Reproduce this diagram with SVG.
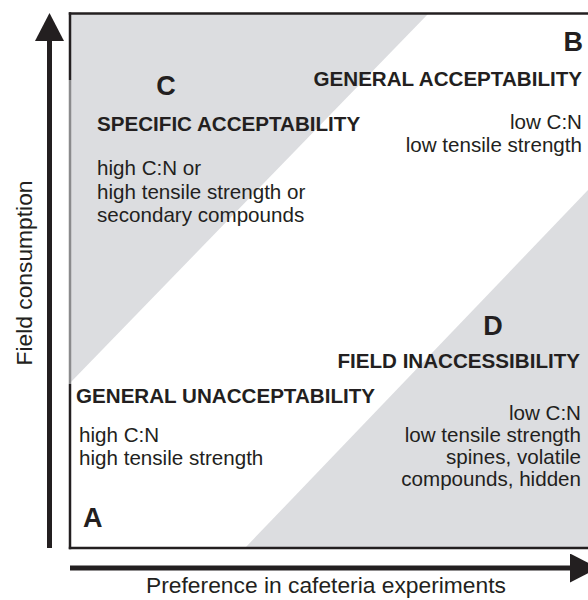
<svg xmlns="http://www.w3.org/2000/svg" width="588" height="600" viewBox="0 0 588 600">
<defs>
<style>
.fill{fill:#dcdde0;stroke:none}
.frame{stroke:#231f20;stroke-width:2.5;fill:none}
.frame-soft{stroke:#8a8a8c;stroke-width:2.5;fill:none}
.axis{stroke:#231f20;stroke-width:5;fill:none}
text{font-family:"Liberation Sans",Arial,Helvetica,sans-serif;fill:#231f20}
.big{font-size:27px;font-weight:bold}
.head{font-size:20.6px;font-weight:bold}
.body{font-size:20.6px}
.axislabel{font-size:22.8px}
</style>
<marker id="arrow" markerUnits="userSpaceOnUse" markerWidth="28" markerHeight="29" refX="0" refY="14.5" orient="auto" viewBox="0 0 28 29">
<path d="M0,0 L28,14.5 L0,29 Z" fill="#231f20"/>
</marker>
</defs>
<rect x="0" y="0" width="588" height="600" fill="#ffffff"/>

<g id="region-C-fill">
<polygon class="fill" points="70,14 428,14 70,383"/>
</g>
<g id="region-D-fill">
<polygon class="fill" points="588,190 600,178 600,548 245,548"/>
</g>

<g id="frame">
<line class="frame" x1="68.8" y1="13.5" x2="600" y2="13.5"/>
<line class="frame" x1="68.8" y1="548" x2="600" y2="548"/>
<line class="frame" x1="70" y1="12.3" x2="70" y2="80"/>
<line class="frame-soft" x1="70" y1="80" x2="70" y2="384"/>
<line class="frame" x1="70" y1="384" x2="70" y2="549.2"/>
</g>

<g id="connectors">
<line id="y-axis" class="axis" x1="49.5" y1="548" x2="49.5" y2="41" marker-end="url(#arrow)"/>
<line id="x-axis" class="axis" x1="70" y1="568" x2="570" y2="568" marker-end="url(#arrow)"/>
</g>

<g id="node-C">
<text class="big" x="166" y="95" text-anchor="middle">C</text>
<text class="head" x="97" y="131">SPECIFIC ACCEPTABILITY</text>
<text class="body" x="97" y="175">high C:N or</text>
<text class="body" x="97" y="199">high tensile strength or</text>
<text class="body" x="97" y="222">secondary compounds</text>
</g>

<g id="node-B">
<text class="big" x="583" y="51" text-anchor="end">B</text>
<text class="head" x="582" y="86" text-anchor="end">GENERAL ACCEPTABILITY</text>
<text class="body" x="582" y="129" text-anchor="end">low C:N</text>
<text class="body" x="582" y="152" text-anchor="end">low tensile strength</text>
</g>

<g id="node-D">
<text class="big" x="493" y="335" text-anchor="middle">D</text>
<text class="head" x="580" y="368" text-anchor="end">FIELD INACCESSIBILITY</text>
<text class="body" x="581" y="420" text-anchor="end">low C:N</text>
<text class="body" x="581" y="442" text-anchor="end">low tensile strength</text>
<text class="body" x="581" y="464" text-anchor="end">spines, volatile</text>
<text class="body" x="581" y="486" text-anchor="end">compounds, hidden</text>
</g>

<g id="node-A">
<text class="head" x="76" y="403">GENERAL UNACCEPTABILITY</text>
<text class="body" x="79" y="442">high C:N</text>
<text class="body" x="79" y="465">high tensile strength</text>
<text class="big" x="83" y="527">A</text>
</g>

<g id="axis-labels">
<text class="axislabel" x="326" y="593" text-anchor="middle">Preference in cafeteria experiments</text>
<text class="axislabel" transform="translate(32,273) rotate(-90)" x="0" y="0" text-anchor="middle">Field consumption</text>
</g>
</svg>
